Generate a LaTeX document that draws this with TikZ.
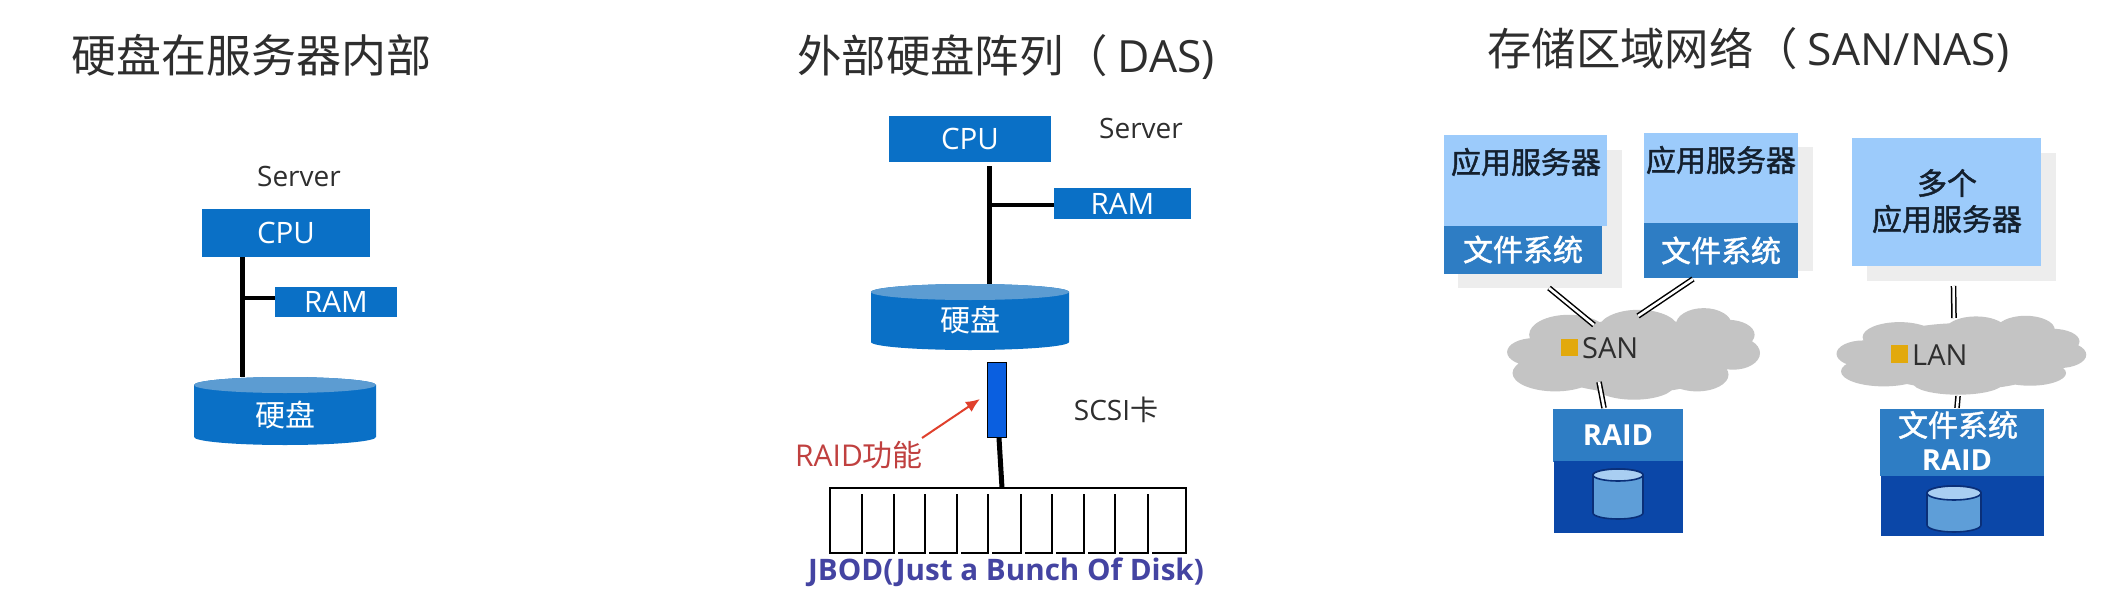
\documentclass[tikz,border=0pt]{standalone}
\usepackage{fontspec}
\usetikzlibrary{arrows.meta}
\setmainfont{Open Sans}
\newfontfamily\cjk{Noto Sans CJK SC}
\newfontfamily\cjkm{Noto Sans CJK SC}[FakeBold=1.5]
\definecolor{cpublue}{HTML}{0A70C6}
\definecolor{disktop}{HTML}{5C9CD2}
\definecolor{lightb}{HTML}{9CCBFB}
\definecolor{midb}{HTML}{2E7DC4}
\definecolor{darkb}{HTML}{0B47A8}
\definecolor{shadowc}{HTML}{EDEDED}
\definecolor{cloudc}{HTML}{C4C4C4}
\definecolor{goldc}{HTML}{E2A90C}
\definecolor{inkc}{HTML}{2E2E2E}
\definecolor{raidred}{HTML}{C0403F}
\definecolor{arrowred}{HTML}{E0402C}
\definecolor{jbodc}{HTML}{4444A2}
\definecolor{cardb}{HTML}{0A5FE0}
\definecolor{cylf}{HTML}{5E9ED8}
\definecolor{cylt}{HTML}{A9CEF2}
\definecolor{cyle}{HTML}{0A2F78}
\definecolor{navyink}{HTML}{14202E}
\newcommand{\fs}[1]{\fontsize{#1}{#1}\selectfont}
\tikzset{
  box/.style={fill=cpublue,text=white,inner sep=0pt,font=\fs{29.5}},
  plain/.style={inner sep=0pt,text=inkc},
  title/.style={plain,font=\fs{44.4}\cjk,anchor=west},
  label/.style={plain,font=\fs{28}},
  srv/.style={fill=lightb,inner sep=0pt},
  fsbox/.style={fill=midb,text=white,inner sep=0pt,font=\fs{30}\cjkm},
  srvtext/.style={inner sep=0pt,text=navyink,font=\fs{30}\cjkm},
  wire/.style={line width=5pt,black},
  wirethin/.style={line width=4pt,black},
  dbl/.style={double=white,double distance=2.6pt,line width=1.5pt,black},
}
\newcommand{\disk}[6]{% name cx ytop ybot rx ry
  \fill[cpublue] (#2-#5,#3+#6) -- (#2-#5,#4-#6) arc[start angle=180,end angle=360,x radius=#5pt,y radius=#6pt] -- (#2+#5,#3+#6) arc[start angle=0,end angle=180,x radius=#5pt,y radius=#6pt] -- cycle;
  \fill[disktop] (#2,#3+#6) ellipse[x radius=#5pt,y radius=#6pt];
}
\newcommand{\smallcyl}[5]{% cx ytop ybot rx ry
  \filldraw[cylf,draw=cyle,line width=1.6pt] (#1-#4,#2+#5) -- (#1-#4,#3-#5) arc[start angle=180,end angle=360,x radius=#4pt,y radius=#5pt] -- (#1+#4,#2+#5) arc[start angle=0,end angle=180,x radius=#4pt,y radius=#5pt] -- cycle;
  \filldraw[cylt,draw=cyle,line width=1.6pt] (#1,#2+#5) ellipse[x radius=#4pt,y radius=#5pt];
}
\begin{document}
\begin{tikzpicture}[x=1pt,y=-1pt]
\useasboundingbox (0,0) rectangle (2106,602);
\fill[white] (0,0) rectangle (2106,602);

% ---------- left
\node[title,font=\fs{45}\cjk] (t1) at (71,55) {硬盘在服务器内部};
\node[label] (srv1) at (299,176) {Server};
\node[box,minimum width=168pt,minimum height=48pt] (cpu1) at (286,233) {CPU};
\node[box,minimum width=122pt,minimum height=30pt] (ram1) at (336,302) {RAM};
\disk{d1}{285}{377}{445}{91}{8}
\node[inner sep=0pt,text=white,font=\fs{30}\cjk] (disk1) at (285,415) {硬盘};
\coordinate (j1) at (242,298);
\draw[wire] (cpu1.south -| j1) -- (242,377);
\draw[wirethin] (j1) -- (ram1.west |- j1);

% ---------- middle
\node[title] (t2) at (797,57) {外部硬盘阵列（ {\rmfamily DAS)}};
\node[box,minimum width=162pt,minimum height=46pt] (cpu2) at (970,139) {CPU};
\node[label] (srv2) at (1141,128) {Server};
\node[box,minimum width=137pt,minimum height=31pt] (ram2) at (1122.5,203.5) {RAM};
\disk{d2}{970}{284}{350}{99}{8}
\node[inner sep=0pt,text=white,font=\fs{30}\cjk] (disk2) at (970,320) {硬盘};
\coordinate (j2) at (989,205);
\coordinate (j2t) at (989,166);
\coordinate (j2b) at (989,284);
\draw[wire] (j2t) -- (j2b);
\draw[wirethin] (j2) -- (ram2.west |- j2);
\node[draw=black,line width=1.5pt,fill=cardb,minimum width=19pt,minimum height=75pt,inner sep=0pt] (card) at (997,400) {};
\node[plain,font=\fs{28}] (scsi) at (1116,410) {SCSI{\cjk 卡}};
\node[inner sep=0pt,text=raidred,font=\fs{30}] (raidf) at (859,455) {RAID{\cjk 功能}};
\coordinate (arrs) at (922,438);
\coordinate (arre) at (980,399);
\draw[arrowred,line width=2pt,-{Latex[length=14pt,width=12pt]}] (arrs) -- (arre);
\node[draw=black,line width=2pt,minimum width=356pt,minimum height=65pt,inner sep=0pt] (jbod) at (1008,520.5) {};
\draw[wire] (999,438) -- (1002,488);
\foreach \dx in {862,894,925,957,988,1021,1052,1084,1115,1148}
  {\draw[white,line width=3pt] (\dx+1,553) -- (\dx+4,553);
   \draw[black,line width=1.6pt] (\dx,494) -- (\dx,554);}
\node[inner sep=0pt,text=jbodc,font=\fs{29.6}\bfseries] (jtext) at (1006,572) {JBOD(Just a Bunch Of Disk)};

% ---------- right title
\node[title] (t3) at (1487,50) {存储区域网络（ {\rmfamily SAN/NAS)}};

% shadows
\fill[shadowc] (1458,150) rectangle (1622,288);
\fill[shadowc] (1700,147) rectangle (1813,271);
\fill[shadowc] (1867,153) rectangle (2056,281);

% servers
\fill[lightb] (1444,135) rectangle (1607,226);
\node[fsbox,minimum width=158pt,minimum height=48pt] (fs1) at (1523,249.5) {文件系统};
\node[srvtext] (app1) at (1526,162) {应用服务器};
\fill[lightb] (1644,133) rectangle (1798,224);
\node[fsbox,minimum width=154pt,minimum height=55pt] (fs2) at (1721,250.5) {文件系统};
\node[srvtext] (app2) at (1721,160) {应用服务器};
\node[srv,minimum width=189pt,minimum height=128pt] (app3box) at (1946.5,202) {};
\node[srvtext] (app3a) at (1947,183) {多个};
\node[srvtext] (app3b) at (1947,219) {应用服务器};

% clouds
\begin{scope}[x=.45pt,y=-.333pt,shift={(1400pt,-100pt)}]
 \fill[cloudc]
   (520,770) ellipse[x radius=220,y radius=110]
   (298,757) ellipse[x radius=60,y radius=42]
   (375,705) ellipse[x radius=88,y radius=60]
   (530,690) ellipse[x radius=90,y radius=60]
   (675,675) ellipse[x radius=62,y radius=50]
   (728,705) ellipse[x radius=60,y radius=45]
   (740,760) ellipse[x radius=60,y radius=50]
   (660,825) ellipse[x radius=70,y radius=50]
   (520,855) ellipse[x radius=90,y radius=45]
   (345,820) ellipse[x radius=95,y radius=55];
 \fill[cloudc]
   (1250,770) ellipse[x radius=220,y radius=100]
   (1030,762) ellipse[x radius=60,y radius=40]
   (1110,712) ellipse[x radius=82,y radius=45]
   (1280,695) ellipse[x radius=70,y radius=45]
   (1390,690) ellipse[x radius=65,y radius=42]
   (1450,725) ellipse[x radius=60,y radius=38]
   (1465,765) ellipse[x radius=60,y radius=40]
   (1400,820) ellipse[x radius=80,y radius=38]
   (1240,850) ellipse[x radius=100,y radius=35]
   (1075,815) ellipse[x radius=95,y radius=45];
\end{scope}
\fill[goldc] (1561,339) rectangle (1578,356);
\node[plain,font=\fs{29},anchor=west] (san) at (1582,348) {SAN};
\fill[goldc] (1890.5,345) rectangle (1908,363);
\node[plain,font=\fs{29},anchor=west] (lan) at (1912,355) {LAN};

% raid boxes
\node[fsbox,font=\fs{29}\bfseries,minimum width=130pt,minimum height=53pt] (raid1) at (1618,435) {RAID};
\node[fill=darkb,minimum width=129pt,minimum height=72pt,inner sep=0pt] (store1) at (1618.5,497) {};
\smallcyl{1618}{469}{519}{25}{6}
\node[fsbox,minimum width=164pt,minimum height=67pt,inner sep=0pt] (raid2) at (1962,442) {};
\node[inner sep=0pt,text=white,font=\fs{30}\cjkm] (fs3) at (1958,425) {文件系统};
\node[inner sep=0pt,text=white,font=\fs{29}\bfseries] (raid2t) at (1957,460) {RAID};
\node[fill=darkb,minimum width=163pt,minimum height=60pt,inner sep=0pt] (store2) at (1962,505.5) {};
\smallcyl{1954}{486}{532}{27}{7}

% connectors
\coordinate (a1) at (1549,288); \coordinate (b1) at (1594,325);
\coordinate (a2) at (1693,279); \coordinate (b2) at (1638,316);
\coordinate (a3) at (1953.5,286); \coordinate (b3) at (1954,318);
\coordinate (a4) at (1599,382); \coordinate (b4) at (1604,408);
\coordinate (a5) at (1958,396); \coordinate (b5) at (1957,408);
\draw[dbl] (a1) -- (b1);
\draw[dbl] (a2) -- (b2);
\draw[dbl] (a3) -- (b3);
\draw[dbl] (a4) -- (b4);
\draw[dbl] (a5) -- (b5);
\end{tikzpicture}
\end{document}
